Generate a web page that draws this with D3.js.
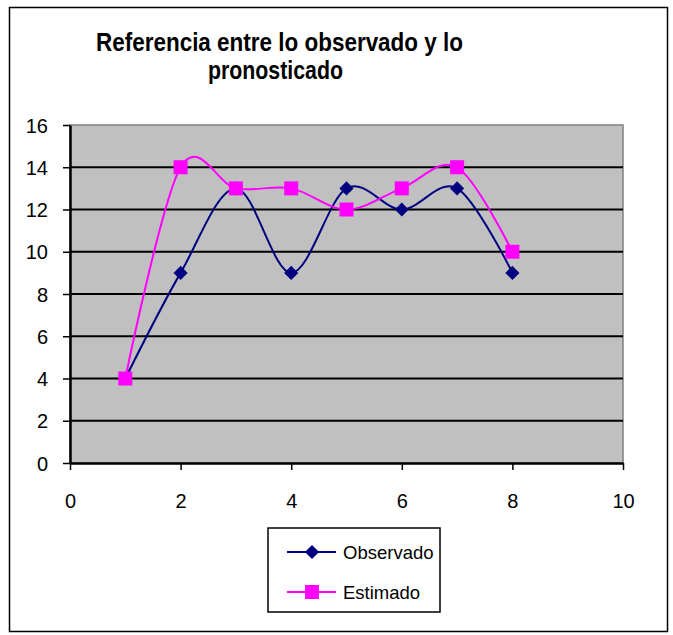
<!DOCTYPE html>
<html>
<head>
<meta charset="utf-8">
<script src="https://cdn.jsdelivr.net/npm/d3@7"></script>
<style>
  body { margin: 0; background: #fff; }
  text { font-family: Arial, "Liberation Sans", sans-serif; }
</style>
</head>
<body>
<svg id="chart"></svg>
<script>
const xValues = [1, 2, 3, 4, 5, 6, 7, 8];
const observado = [4, 9, 13, 9, 13, 12, 13, 9];
const estimado = [4, 14, 13, 13, 12, 13, 14, 10];
const xTicks = [0, 2, 4, 6, 8, 10];
const yTicks = [0, 2, 4, 6, 8, 10, 12, 14, 16];
const titleLines = ['Referencia entre lo observado y lo', 'pronosticado'];

const width = 673, height = 635;
const margin = {top: 125, right: 50, bottom: 172, left: 70};
const innerW = width - margin.left - margin.right;
const innerH = height - margin.top - margin.bottom;

const svg = d3.select('#chart')
    .attr('width', width)
    .attr('height', height);

// outer frame
svg.append('rect')
    .attr('x', 9.5).attr('y', 7.5)
    .attr('width', 658).attr('height', 624)
    .attr('fill', '#fff')
    .attr('stroke', '#000')
    .attr('stroke-width', 1.5);

// title (condensed bold, squeezed to the original width)
const titlePos = [{x: 279.5, y: 51, len: 367}, {x: 275.5, y: 79, len: 135}];
svg.append('g')
    .selectAll('text')
    .data(titleLines)
    .join('text')
    .attr('x', (d, i) => titlePos[i].x)
    .attr('y', (d, i) => titlePos[i].y)
    .attr('text-anchor', 'middle')
    .attr('textLength', (d, i) => titlePos[i].len)
    .attr('lengthAdjust', 'spacingAndGlyphs')
    .style('font-weight', 'bold')
    .style('font-size', '25px')
    .text(d => d);

const chart = svg.append('g')
    .attr('transform', `translate(${margin.left}, ${margin.top})`);

const xscale = d3.scaleLinear().domain([0, 10]).range([0, innerW]);
const yscale = d3.scaleLinear().domain([0, 16]).range([innerH, 0]);

// plot area
chart.append('rect')
    .attr('width', innerW)
    .attr('height', innerH)
    .attr('fill', '#c0c0c0')
    .attr('stroke', '#808080')
    .attr('stroke-width', 1.5);

// gridlines
chart.selectAll('.grid')
    .data(yTicks.filter(d => d > 0 && d < 16))
    .join('line')
    .attr('x1', 0).attr('x2', innerW)
    .attr('y1', d => yscale(d)).attr('y2', d => yscale(d))
    .attr('stroke', '#000')
    .attr('stroke-width', 2);

// axes
const xaxis = d3.axisBottom(xscale).tickValues(xTicks).tickSize(7).tickSizeOuter(0).tickPadding(24);
const yaxis = d3.axisLeft(yscale).tickValues(yTicks).tickSize(7).tickSizeOuter(0).tickPadding(15);

const gx = chart.append('g')
    .attr('transform', `translate(0, ${innerH})`)
    .call(xaxis);
const gy = chart.append('g').call(yaxis);

[gx, gy].forEach(g => {
    g.select('.domain').attr('stroke', '#000').attr('stroke-width', 2.5);
    g.selectAll('.tick line').attr('stroke', '#000').attr('stroke-width', 1.5);
    g.selectAll('.tick text')
        .attr('fill', '#000')
        .style('font-family', 'Arial, "Liberation Sans", sans-serif')
        .style('font-size', '20px');
});
gy.selectAll('.tick text').attr('dy', '0.36em');

// series
const line = d3.line()
    .x(d => xscale(d[0]))
    .y(d => yscale(d[1]))
    .curve(d3.curveCardinal.tension(0));

const obsPts = xValues.map((x, i) => [x, observado[i]]);
const estPts = xValues.map((x, i) => [x, estimado[i]]);

chart.append('path')
    .attr('d', line(obsPts))
    .attr('fill', 'none')
    .attr('stroke', '#000080')
    .attr('stroke-width', 2);

chart.append('path')
    .attr('d', line(estPts))
    .attr('fill', 'none')
    .attr('stroke', '#ff00ff')
    .attr('stroke-width', 2);

const diamond = d3.symbol().type(d3.symbolSquare).size(100);
chart.selectAll('.obs')
    .data(obsPts)
    .join('path')
    .attr('d', diamond)
    .attr('transform', d => `translate(${xscale(d[0])}, ${yscale(d[1])}) rotate(45)`)
    .attr('fill', '#000080');

chart.selectAll('.est')
    .data(estPts)
    .join('rect')
    .attr('x', d => xscale(d[0]) - 7)
    .attr('y', d => yscale(d[1]) - 7)
    .attr('width', 14)
    .attr('height', 14)
    .attr('fill', '#ff00ff');

// legend
const legend = svg.append('g').attr('transform', 'translate(268, 528)');
legend.append('rect')
    .attr('width', 172).attr('height', 84)
    .attr('fill', '#fff')
    .attr('stroke', '#000')
    .attr('stroke-width', 1.5);

const items = [
    {name: 'Observado', color: '#000080', shape: 'diamond', y: 24},
    {name: 'Estimado', color: '#ff00ff', shape: 'square', y: 64}
];
items.forEach(it => {
    legend.append('line')
        .attr('x1', 19).attr('x2', 68)
        .attr('y1', it.y).attr('y2', it.y)
        .attr('stroke', it.color)
        .attr('stroke-width', 2);
    if (it.shape === 'diamond') {
        legend.append('path')
            .attr('d', diamond)
            .attr('transform', `translate(44, ${it.y}) rotate(45)`)
            .attr('fill', it.color);
    } else {
        legend.append('rect')
            .attr('x', 37).attr('y', it.y - 7)
            .attr('width', 14).attr('height', 14)
            .attr('fill', it.color);
    }
    legend.append('text')
        .attr('x', 75)
        .attr('y', it.y)
        .attr('dy', '0.36em')
        .style('font-size', '18.5px')
        .text(it.name);
});
</script>
</body>
</html>
